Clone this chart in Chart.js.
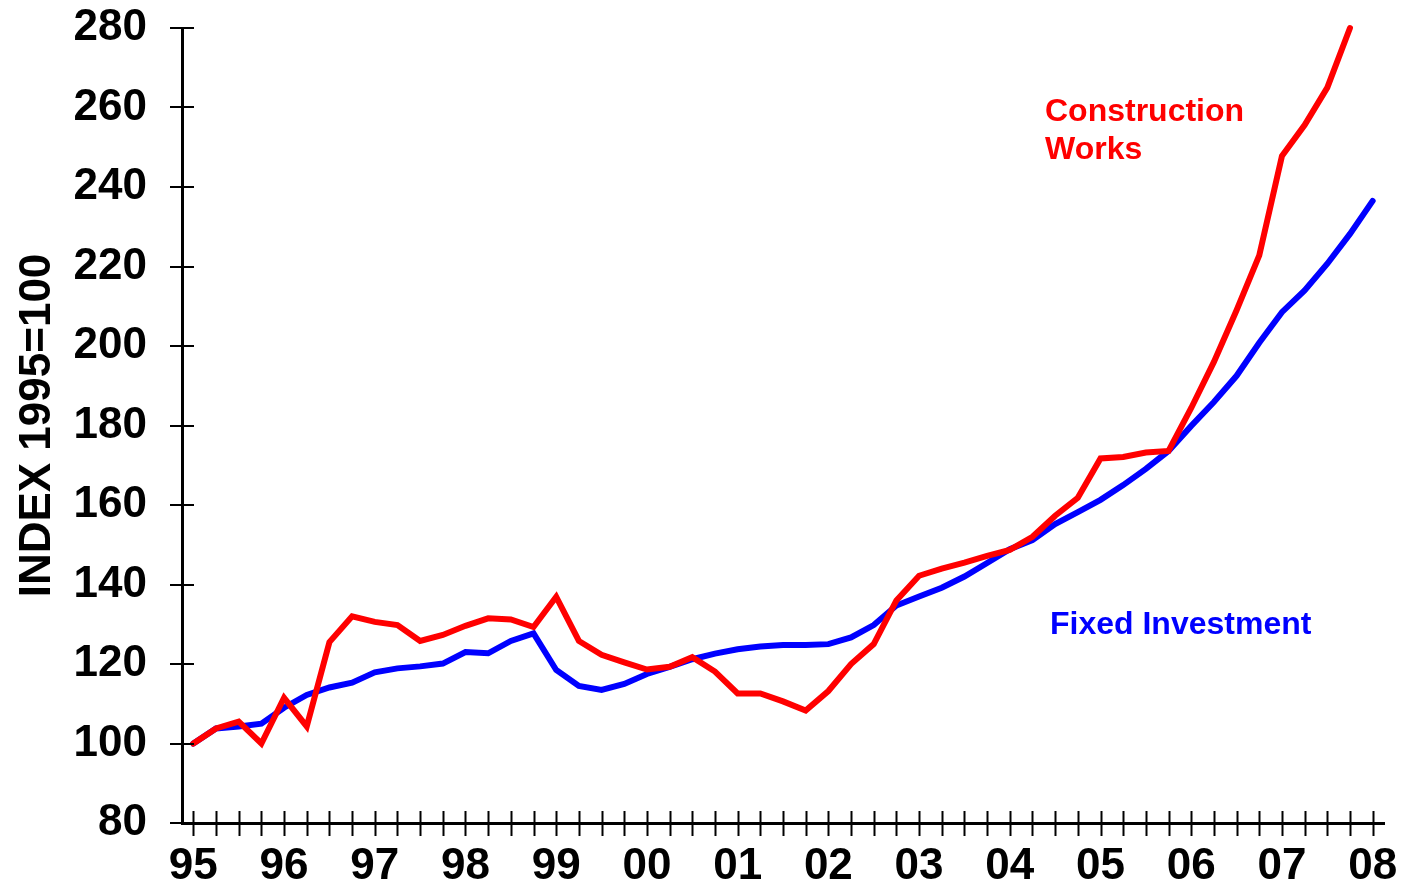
<!DOCTYPE html>
<html><head><meta charset="utf-8">
<script src="https://cdn.jsdelivr.net/npm/chart.js@4/dist/chart.umd.min.js"></script>
<style>html,body{margin:0;padding:0;background:#fff;overflow:hidden}#wrap{width:1402px;height:883px;position:relative}</style>
</head><body><div id="wrap"><canvas id="c" width="1402" height="883"></canvas></div>
<script>
// Year tick labels (one every 4 quarters, starting 1995Q1)
const yearLabels = ['95','96','97','98','99','00','01','02','03','04','05','06','07','08'];
// Quarterly index values, 1995=100
const constructionWorks = [100,103.8,105.5,100,111.5,104.3,125.5,132,130.6,129.8,125.8,127.3,129.6,131.5,131.2,129.3,136.9,125.8,122.3,120.4,118.6,119.3,121.7,118.1,112.6,112.6,110.6,108.3,113.2,120,125,136,142.2,144,145.5,147.2,148.7,152,157.3,161.8,171.7,172.1,173.2,173.6,184.4,196,209,222.8,247.8,255.6,265,280];
const fixedInvestment = [100,103.8,104.3,105,109,112.2,114.1,115.3,117.9,118.9,119.4,120.1,123,122.7,125.8,127.7,118.5,114.5,113.5,115,117.5,119.3,121.2,122.6,123.7,124.4,124.8,124.8,125,126.7,129.8,134.7,137,139.2,142,145.4,148.9,151.2,155.2,158.2,161.3,165,169.1,173.6,179.9,185.9,192.5,200.8,208.5,214,220.7,228.2,236.5];
const seriesNames = ['Construction Works','Fixed Investment'];
const yAxisTitle = 'INDEX 1995=100';

const FONT = "'Liberation Sans', Arial, Helvetica, sans-serif";
const quarterCount = (yearLabels.length - 1) * 4; // 52

const toPoints = arr => arr.map((v, i) => ({x: i, y: v}));

const axisTicks = {
  id: 'axisTicks',
  afterDraw(chart) {
    const {ctx, scales: {x, y}, chartArea: a} = chart;
    ctx.save();
    ctx.strokeStyle = '#000';
    ctx.lineWidth = 2;
    ctx.beginPath();
    x.ticks.forEach(t => {
      const px = Math.round(x.getPixelForValue(t.value)) + 0.5;
      ctx.moveTo(px, a.bottom - 12);
      ctx.lineTo(px, a.bottom + 13);
    });
    y.ticks.forEach(t => {
      const py = Math.round(y.getPixelForValue(t.value));
      if (t.value % 20 === 0) {
        ctx.moveTo(a.left - 12, py); ctx.lineTo(a.left + 12, py);
      } else {
        ctx.moveTo(a.left - 7, py); ctx.lineTo(a.left, py);
      }
    });
    ctx.stroke();
    ctx.restore();
  }
};

const seriesLabels = {
  id: 'seriesLabels',
  afterDraw(chart) {
    const {ctx} = chart;
    ctx.save();
    ctx.font = `bold 32px ${FONT}`;
    ctx.textAlign = 'left';
    ctx.textBaseline = 'alphabetic';
    ctx.fillStyle = '#ff0000';
    const parts = seriesNames[0].split(' ');
    ctx.fillText(parts[0], 1045, 121);
    ctx.fillText(parts[1], 1045, 159);
    ctx.fillStyle = '#0000ff';
    ctx.fillText(seriesNames[1], 1050, 634);
    ctx.restore();
  }
};

const hiddenGrid = len => ({display: true, drawOnChartArea: false, drawTicks: true, tickLength: len, color: 'rgba(0,0,0,0)'});

new Chart(document.getElementById('c'), {
  type: 'line',
  data: {
    datasets: [
      {label: seriesNames[0], data: toPoints(constructionWorks), borderColor: '#ff0000', backgroundColor: '#ff0000', borderWidth: 6, pointRadius: 0, tension: 0, borderCapStyle: 'round', clip: false},
      {label: seriesNames[1], data: toPoints(fixedInvestment), borderColor: '#0000ff', backgroundColor: '#0000ff', borderWidth: 6, pointRadius: 0, tension: 0, borderCapStyle: 'round', clip: false}
    ]
  },
  options: {
    responsive: false,
    animation: false,
    devicePixelRatio: 1,
    layout: {padding: {top: 28, right: 18, left: 0, bottom: 0}},
    plugins: {legend: {display: false}, tooltip: {enabled: false}},
    scales: {
      x: {
        type: 'linear',
        min: -0.5,
        max: quarterCount + 0.5,
        afterBuildTicks: s => { const t = []; for (let q = 0; q <= quarterCount; q++) t.push({value: q}); s.ticks = t; },
        afterFit: s => { s.height = 60; },
        grid: hiddenGrid(17),
        border: {display: true, color: '#000', width: 3},
        ticks: {
          autoSkip: false, maxRotation: 0, minRotation: 0, padding: 0,
          color: '#000', font: {family: FONT, size: 44, weight: 'bold'},
          callback: v => (v % 4 === 0 ? yearLabels[v / 4] : '')
        }
      },
      y: {
        min: 80, max: 280,
        afterFit: s => { s.width = 182; },
        grid: hiddenGrid(35),
        border: {display: true, color: '#000', width: 3},
        ticks: {
          stepSize: 10, padding: 0, color: '#000',
          font: {family: FONT, size: 44, weight: 'bold'},
          callback: v => (v % 20 === 0 ? String(v) : '')
        },
        title: {display: true, text: yAxisTitle, color: '#000', font: {family: FONT, size: 44, weight: 'bold'}, padding: {top: 11, bottom: 0}}
      }
    }
  },
  plugins: [axisTicks, seriesLabels]
});
</script></body></html>
